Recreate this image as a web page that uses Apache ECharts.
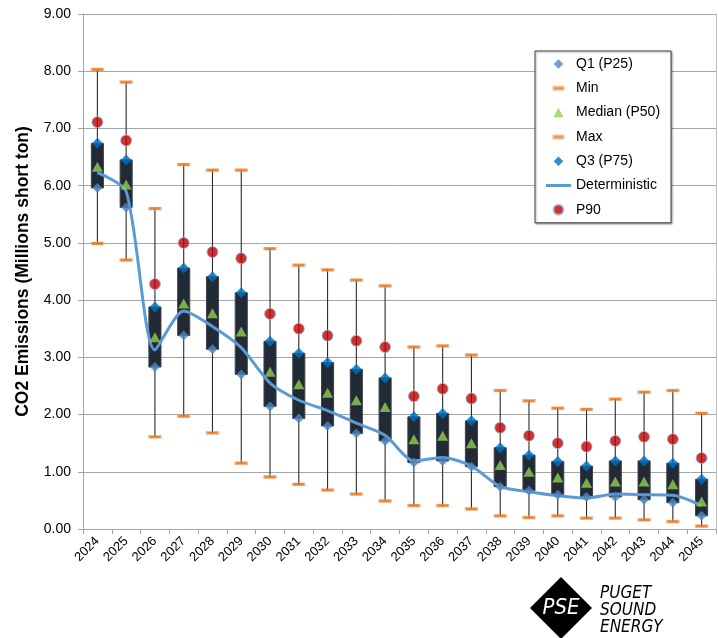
<!DOCTYPE html>
<html>
<head>
<meta charset="utf-8">
<script src="https://cdn.jsdelivr.net/npm/echarts@6/dist/echarts.min.js"></script>
<style>
  html, body { margin: 0; padding: 0; background: #ffffff; }
  #chart { width: 718px; height: 638px; }
</style>
</head>
<body>
<div id="chart"></div>
<script>
// Annual CO2 emissions distribution (millions of short tons), 2024-2045
const years = ['2024','2025','2026','2027','2028','2029','2030','2031','2032','2033','2034',
               '2035','2036','2037','2038','2039','2040','2041','2042','2043','2044','2045'];
const minVals    = [4.99, 4.70, 1.61, 1.97, 1.68, 1.15, 0.91, 0.78, 0.68, 0.61, 0.49,
                    0.41, 0.41, 0.35, 0.23, 0.20, 0.23, 0.19, 0.19, 0.16, 0.13, 0.05];
const q1Vals     = [5.96, 5.62, 2.83, 3.38, 3.14, 2.70, 2.14, 1.93, 1.80, 1.67, 1.54,
                    1.16, 1.19, 1.09, 0.74, 0.67, 0.60, 0.56, 0.56, 0.51, 0.46, 0.23];
const medianVals = [6.33, 6.02, 3.35, 3.94, 3.77, 3.45, 2.75, 2.53, 2.38, 2.25, 2.13,
                    1.57, 1.63, 1.50, 1.12, 1.00, 0.90, 0.81, 0.83, 0.83, 0.78, 0.48];
const q3Vals     = [6.74, 6.45, 3.88, 4.56, 4.41, 4.13, 3.28, 3.07, 2.91, 2.79, 2.64,
                    1.96, 2.02, 1.89, 1.42, 1.29, 1.18, 1.10, 1.19, 1.19, 1.15, 0.87];
const maxVals    = [8.03, 7.81, 5.60, 6.37, 6.27, 6.27, 4.90, 4.61, 4.53, 4.35, 4.25,
                    3.18, 3.20, 3.04, 2.42, 2.24, 2.11, 2.09, 2.27, 2.39, 2.42, 2.02];
const p90Vals    = [7.11, 6.79, 4.28, 5.00, 4.84, 4.73, 3.76, 3.50, 3.38, 3.29, 3.18,
                    2.32, 2.45, 2.28, 1.77, 1.63, 1.50, 1.44, 1.54, 1.61, 1.57, 1.24];
const deterministicVals = [6.23, 5.90, 3.13, 3.81, 3.54, 3.17, 2.55, 2.25, 2.07, 1.85, 1.64,
                    1.19, 1.25, 1.10, 0.74, 0.65, 0.58, 0.54, 0.61, 0.60, 0.59, 0.41];
const yTicks = [0, 1, 2, 3, 4, 5, 6, 7, 8, 9];

const FONT = '"Liberation Sans", Arial, sans-serif';

// Rows for the box-and-whisker custom series: [index, min, max, q1, q3]
const boxRows = years.map((y, i) => [i, minVals[i], maxVals[i], q1Vals[i], q3Vals[i]]);

// Legend icons padded to a 25x10 box so every marker keeps its own size
const ICON_DIAMOND  = 'path://M0,0M25,10M12.5,0.2L17.3,5L12.5,9.8L7.7,5Z';
const ICON_DASH     = 'path://M0,0M25,10M7.5,3.5h10v3h-10Z';
const ICON_TRIANGLE = 'path://M0,0M25,10M12.5,0.3L17.5,9.7L7.5,9.7Z';
const ICON_CIRCLE   = 'path://M0,0M25,10M17.5,5A5,5,0,1,1,7.5,5A5,5,0,1,1,17.5,5Z';
const ICON_LINE     = 'path://M0,0M25,10M0,3.5h25v3h-25Z';

const chart = echarts.init(document.getElementById('chart'), null, { renderer: 'canvas' });

const option = {
  backgroundColor: '#ffffff',
  animation: false,
  grid: { left: 83, right: 2, top: 14, bottom: 109 },
  legend: {
    orient: 'vertical',
    left: 535,
    top: 51,
    padding: [5, 11, 5, 10],
    itemWidth: 25,
    itemHeight: 10,
    itemGap: 8.3,
    backgroundColor: '#ffffff',
    borderColor: '#404040',
    borderWidth: 1,
    shadowColor: 'rgba(0,0,0,0.35)',
    shadowBlur: 2,
    shadowOffsetX: 1,
    shadowOffsetY: 1,
    textStyle: { fontFamily: FONT, fontSize: 14, color: '#000000', lineHeight: 16 },
    data: [
      { name: 'Q1 (P25)', icon: ICON_DIAMOND },
      { name: 'Min', icon: ICON_DASH },
      { name: 'Median (P50)', icon: ICON_TRIANGLE },
      { name: 'Max', icon: ICON_DASH },
      { name: 'Q3 (P75)', icon: ICON_DIAMOND },
      { name: 'Deterministic', icon: ICON_LINE },
      { name: 'P90', icon: ICON_CIRCLE }
    ]
  },
  xAxis: {
    type: 'category',
    data: years,
    boundaryGap: true,
    axisLine: { lineStyle: { color: '#a6a6a6', width: 1 } },
    axisTick: { show: true, length: 5, lineStyle: { color: '#a6a6a6' } },
    axisLabel: { rotate: 45, fontFamily: FONT, fontSize: 13, color: '#000000', margin: 10 },
    splitLine: { show: false }
  },
  yAxis: [
    {
      type: 'value',
      min: yTicks[0],
      max: yTicks[yTicks.length - 1],
      interval: 1,
      name: 'CO2 Emissions (Millions short ton)',
      nameLocation: 'middle',
      nameGap: 51,
      nameTextStyle: { fontFamily: FONT, fontSize: 17.5, fontWeight: 'bold', color: '#000000' },
      axisLine: { show: true, lineStyle: { color: '#a6a6a6', width: 1 } },
      axisTick: { show: true, length: 5, inside: false, lineStyle: { color: '#a6a6a6' } },
      axisLabel: {
        fontFamily: FONT, fontSize: 14, color: '#000000', margin: 12,
        formatter: v => v.toFixed(2)
      },
      splitLine: { show: true, lineStyle: { color: '#a6a6a6', width: 1 } }
    },
    {
      // right-hand border of the plot area
      type: 'value',
      position: 'right',
      min: yTicks[0],
      max: yTicks[yTicks.length - 1],
      interval: 1,
      axisLine: { show: true, lineStyle: { color: '#bfbfbf', width: 1 } },
      axisTick: { show: false },
      axisLabel: { show: false },
      splitLine: { show: false }
    }
  ],
  series: [
    {
      // whiskers (min to max) and the interquartile box
      type: 'custom',
      name: 'box',
      z: 1,
      data: boxRows,
      encode: { x: 0, y: [1, 2, 3, 4] },
      renderItem: function (params, api) {
        const idx = api.value(0);
        const pMin = api.coord([idx, api.value(1)]);
        const pMax = api.coord([idx, api.value(2)]);
        const pQ1 = api.coord([idx, api.value(3)]);
        const pQ3 = api.coord([idx, api.value(4)]);
        const bw = api.size([1, 0])[0] * 0.42;
        return {
          type: 'group',
          children: [
            {
              type: 'line',
              shape: { x1: pMin[0], y1: pMin[1], x2: pMax[0], y2: pMax[1] },
              style: { stroke: '#2b2b2b', lineWidth: 1.1 }
            },
            {
              type: 'rect',
              shape: { x: pQ3[0] - bw / 2, y: pQ3[1], width: bw, height: pQ1[1] - pQ3[1] },
              style: { fill: '#222a35', stroke: '#3a4452', lineWidth: 1 }
            }
          ]
        };
      }
    },
    {
      name: 'Deterministic',
      type: 'line',
      z: 3,
      data: deterministicVals,
      smooth: 0.25,
      symbol: 'none',
      lineStyle: { color: '#5b9bd5', width: 3 },
      itemStyle: { color: '#5b9bd5' }
    },
    {
      name: 'Q1 (P25)',
      type: 'scatter',
      z: 4,
      data: q1Vals,
      symbol: 'diamond',
      symbolSize: 10,
      itemStyle: { color: '#4f86c6' }
    },
    {
      name: 'Min',
      type: 'scatter',
      z: 4,
      data: minVals,
      symbol: 'rect',
      symbolSize: [12, 3],
      itemStyle: { color: '#e46c0a', borderColor: '#f4b183', borderWidth: 0.8 }
    },
    {
      name: 'Median (P50)',
      type: 'scatter',
      z: 4,
      data: medianVals,
      symbol: 'triangle',
      symbolSize: [11, 10],
      itemStyle: { color: '#92d050' }
    },
    {
      name: 'Max',
      type: 'scatter',
      z: 4,
      data: maxVals,
      symbol: 'rect',
      symbolSize: [12, 3],
      itemStyle: { color: '#e46c0a', borderColor: '#f4b183', borderWidth: 0.8 }
    },
    {
      name: 'Q3 (P75)',
      type: 'scatter',
      z: 4,
      data: q3Vals,
      symbol: 'diamond',
      symbolSize: 11,
      itemStyle: { color: '#0070c0' }
    },
    {
      name: 'P90',
      type: 'scatter',
      z: 4,
      data: p90Vals,
      symbol: 'circle',
      symbolSize: 11,
      itemStyle: { color: '#c00000', borderColor: '#9db8e0', borderWidth: 1 }
    }
  ],
  graphic: [
    {
      // company logo
      type: 'group',
      left: 530,
      top: 577,
      children: [
        {
          type: 'polygon',
          shape: { points: [[31, 0], [62, 31], [31, 62], [0, 31]] },
          style: { fill: '#000000' }
        },
        {
          type: 'text',
          x: 31, y: 31,
          style: {
            text: 'PSE', fill: '#ffffff', align: 'center', verticalAlign: 'middle',
            font: 'italic 22px "Liberation Sans Narrow", "DejaVu Sans Condensed", sans-serif'
          }
        },
        {
          type: 'text',
          x: 70, y: 8,
          style: {
            text: 'PUGET\nSOUND\nENERGY', fill: '#000000', lineHeight: 17,
            font: 'italic 17px "Liberation Sans Narrow", "DejaVu Sans Condensed", sans-serif'
          }
        }
      ]
    }
  ]
};

chart.setOption(option);
</script>
</body>
</html>
